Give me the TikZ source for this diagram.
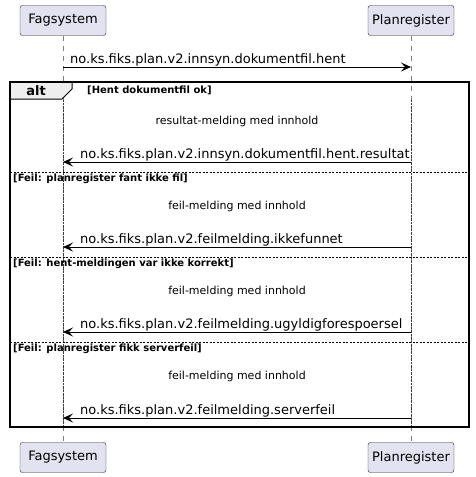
\documentclass[tikz,border=0pt]{standalone}
\usepackage{fontspec}
\setmainfont{DejaVu Sans}
\usetikzlibrary{arrows.meta}
\definecolor{partfill}{RGB}{226,226,240}
\definecolor{tabfill}{RGB}{238,238,238}
\definecolor{lifedot}{RGB}{140,20,50}
\tikzset{
    participant/.style={draw=black!85, fill=partfill, rounded corners=2.5pt, minimum width=86pt, minimum height=30pt, inner sep=0pt, font=\fontsize{13}{15}\selectfont},
    msg/.style={-{Stealth[length=10pt,width=9pt,inset=4pt]}, line width=1pt},
    msglabel/.style={font=\fontsize{13}{15}\selectfont, anchor=base west, inner sep=0pt},
    note/.style={font=\fontsize{11}{13}\selectfont},
    guard/.style={font=\bfseries\fontsize{10}{12}\selectfont, anchor=west, inner sep=0pt}
}

\begin{document}
\begin{tikzpicture}[x=1pt, y=-1pt]
    \useasboundingbox (0,0) rectangle (475,477);
    \node[participant] (fagTop) at (63,20.5) {Fagsystem};
    \node[participant] (planTop) at (411,20.5) {Planregister};
    \node[participant] (fagBot) at (63,457.5) {Fagsystem};
    \node[participant] (planBot) at (411,457.5) {Planregister};
    \draw[gray, dash pattern=on 5pt off 5pt] (fagTop) -- (fagBot);
    \draw[gray, dash pattern=on 5pt off 5pt] (planTop) -- (planBot);
    \draw[densely dotted, lifedot] (63,100) -- (63,425);
    \draw[densely dotted, lifedot] (411,100) -- (411,425);
    \coordinate (f0) at (63,67);
    \coordinate (p0) at (411,67);
    \draw[msg] (f0) -- (p0);
    \node[msglabel] (req) at (70,63) {no.ks.fiks.plan.v2.innsyn.dokumentfil.hent};
    \draw[fill=tabfill, line width=1pt] (10,82) -- (72,82) -- (72,89) -- (62,99) -- (10,99) -- cycle;
    \draw[line width=1.6pt] (10,82) rectangle (469,427);
    \node[font=\bfseries\fontsize{13}{15}\selectfont] (altlbl) at (36,90.5) {alt};
    \node[guard] (g1) at (87,90) {[Hent dokumentfil ok]};
    \foreach \i/\ty/\ay/\txt/\msgtxt in {1/121/162/resultat-melding med innhold/no.ks.fiks.plan.v2.innsyn.dokumentfil.hent.resultat,
                                         2/206/247/feil-melding med innhold/no.ks.fiks.plan.v2.feilmelding.ikkefunnet,
                                         3/291/332/feil-melding med innhold/no.ks.fiks.plan.v2.feilmelding.ugyldigforespoersel,
                                         4/376/418/feil-melding med innhold/no.ks.fiks.plan.v2.feilmelding.serverfeil}{
        \coordinate (f\i) at (63,\ay);
        \coordinate (p\i) at (411,\ay);
        \node[note] (note\i) at (237,\ty) {\txt};
        \draw[msg] (p\i) -- (f\i);
        \node[msglabel] (ret\i) at (80,\ay-4) {\msgtxt};
    }
    \foreach \i/\sy/\g in {2/172/{[Feil: planregister fant ikke fil]},
                           3/257/{[Feil: hent-meldingen var ikke korrekt]},
                           4/342/{[Feil: planregister fikk serverfeil]}}{
        \draw[dash pattern=on 2pt off 1.5pt] (10,\sy) -- (469,\sy);
        \node[guard] (g\i) at (13,\sy+7) {\g};
    }
\end{tikzpicture}
\end{document}
